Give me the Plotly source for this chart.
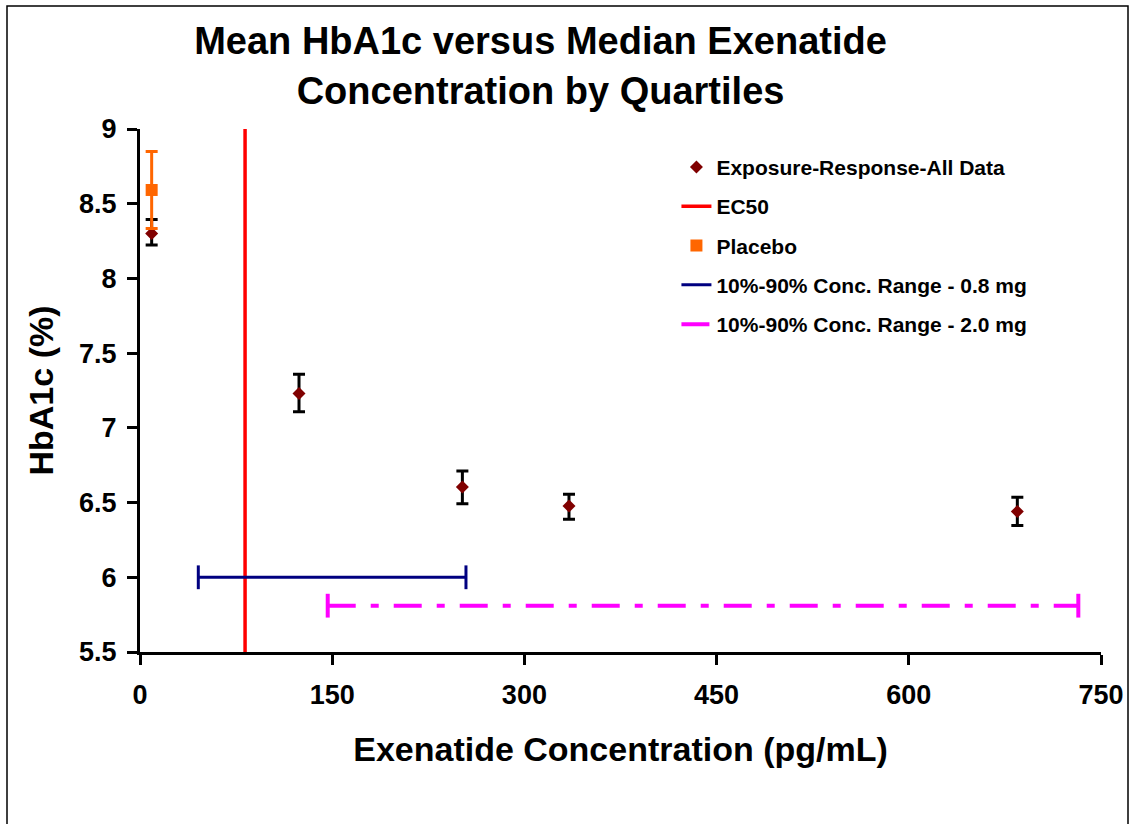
import plotly.graph_objects as go

# Data
conc = [9.1, 124.1, 251.6, 334.8, 684.7]
hba1c = [8.30, 7.23, 6.605, 6.477, 6.44]
err_plus = [0.094, 0.128, 0.106, 0.078, 0.096]
err_minus = [0.076, 0.123, 0.113, 0.089, 0.093]

placebo_x = [9.1]
placebo_y = [8.592]
placebo_err = [0.258]

ec50_x = [82.0, 82.0]
ec50_y = [5.5, 9.0]

range08_x = [45.5, 254.4]
range08_y = [6.0, 6.0]
range20_x = [146.5, 732.3]
range20_y = [5.81, 5.81]

x_ticks = [0, 150, 300, 450, 600, 750]
y_ticks = [5.5, 6, 6.5, 7, 7.5, 8, 8.5, 9]
y_ticktext = ["5.5", "6", "6.5", "7", "7.5", "8", "8.5", "9"]

FONT = "Liberation Sans, Arial, sans-serif"

fig = go.Figure()

fig.add_trace(go.Scatter(
    x=conc, y=hba1c, mode="markers", name="Exposure-Response-All Data",
    marker=dict(symbol="diamond", size=10, color="#800000"),
    error_y=dict(type="data", array=err_plus, arrayminus=err_minus,
                 color="black", thickness=3, width=6),
    legendgroup="g1",
))
fig.add_trace(go.Scatter(
    x=ec50_x, y=ec50_y, mode="lines", name="EC50",
    line=dict(color="#FF0000", width=3.5), legendgroup="g2",
))
fig.add_trace(go.Scatter(
    x=placebo_x, y=placebo_y, mode="markers", name="Placebo",
    marker=dict(symbol="square", size=12, color="#FF6600"),
    error_y=dict(type="data", array=placebo_err, color="#FF6600",
                 thickness=3, width=6),
    legendgroup="g3",
))
fig.add_trace(go.Scatter(
    x=range08_x, y=range08_y, mode="lines",
    name="10%-90% Conc. Range - 0.8 mg",
    line=dict(color="#000080", width=3), legendgroup="g4",
))
fig.add_trace(go.Scatter(
    x=range08_x, y=range08_y, mode="markers", showlegend=False,
    marker=dict(symbol="line-ns", size=17,
                line=dict(color="#000080", width=3)),
    legendgroup="g4", hoverinfo="skip",
))
fig.add_trace(go.Scatter(
    x=range20_x, y=range20_y, mode="lines",
    name="10%-90% Conc. Range - 2.0 mg",
    line=dict(color="#FF00FF", width=4, dash="28px,15px,8px,15px"),
    legendgroup="g5",
))
fig.add_trace(go.Scatter(
    x=range20_x, y=range20_y, mode="markers", showlegend=False,
    marker=dict(symbol="line-ns", size=17,
                line=dict(color="#FF00FF", width=4)),
    legendgroup="g5", hoverinfo="skip",
))

axis_common = dict(
    showline=True, linecolor="black", linewidth=3,
    ticks="outside", ticklen=10, tickwidth=3, tickcolor="black",
    showgrid=False, zeroline=False, automargin=False,
    tickfont=dict(family=FONT, size=27, color="black", weight="bold"),
    title_font=dict(family=FONT, size=34, color="black", weight="bold"),
)

fig.update_layout(
    width=1132, height=824,
    margin=dict(l=140, r=31, t=129, b=172),
    paper_bgcolor="white", plot_bgcolor="white",
    font=dict(family=FONT, color="black"),
    title=dict(
        text="Mean HbA1c versus Median Exenatide<br>Concentration by Quartiles",
        font=dict(family=FONT, size=38, color="black", weight="bold"),
        x=0.4168, xref="paper", xanchor="center",
        y=0.934, yref="container", yanchor="middle",
    ),
    xaxis=dict(range=[0, 750], tickvals=x_ticks,
               ticklabelstandoff=7,
               title=dict(text="Exenatide Concentration (pg/mL)", standoff=28),
               **axis_common),
    yaxis=dict(range=[5.5, 9], tickvals=y_ticks, ticktext=y_ticktext,
               ticklabelstandoff=5,
               title=dict(text="HbA1c (%)", standoff=16),
               **axis_common),
    legend=dict(
        x=0.5582, y=0.966, xanchor="left", yanchor="top",
        bgcolor="rgba(0,0,0,0)",
        font=dict(family=FONT, size=21, color="black", weight="bold"),
        traceorder="grouped", tracegroupgap=9,
    ),
    showlegend=True,
    shapes=[dict(type="rect", xref="paper", yref="paper",
                 x0=(7 - 140) / 961, x1=(1128 - 140) / 961,
                 y0=-0.4, y1=(652 - 6) / 523,
                 line=dict(color="black", width=1.5), layer="below")],
)

fig.write_html("out.html", config={"displayModeBar": False},
               post_script="document.body.style.margin='0';")
